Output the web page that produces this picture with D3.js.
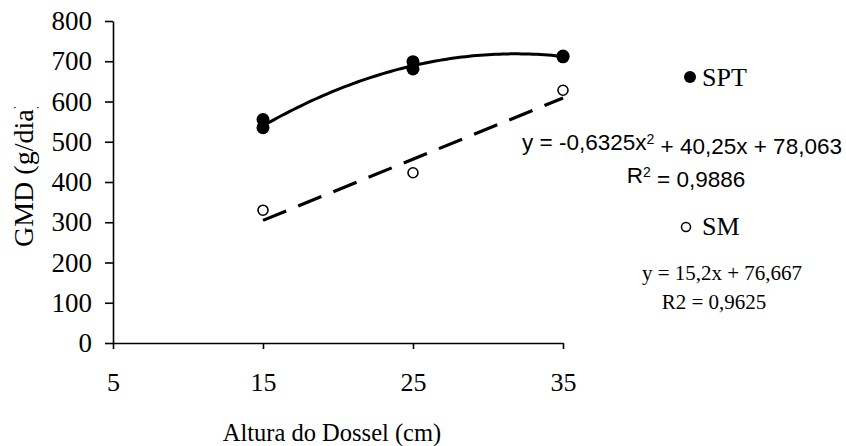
<!DOCTYPE html>
<html>
<head>
<meta charset="utf-8">
<script src="https://cdn.jsdelivr.net/npm/d3@7"></script>
<style>
  html, body { margin: 0; padding: 0; background: #fff; }
  svg { display: block; }
</style>
</head>
<body>
<svg id="chart" width="846" height="446"></svg>
<script>
// Canopy height (cm) and daily gain (g/dia) per grazing system
const sptHeight = [15, 15, 25, 25, 35, 35];
const sptGain   = [555, 535, 699, 681, 713, 711];
const smHeight  = [15, 25, 35];
const smGain    = [330, 423, 628];

// Trendline coefficients: c0 + c1*x + c2*x^2
const sptCoef = [78.063, 40.25, -0.6325];
const smCoef  = [76.667, 15.2];
const trendRange = [15, 35];

const xTicks = [5, 15, 25, 35];
const yTicks = [0, 100, 200, 300, 400, 500, 600, 700, 800];

const serif = "'Liberation Serif', 'Times New Roman', serif";
const sans  = "'Liberation Sans', Arial, sans-serif";

const svg = d3.select("#chart");

const x = d3.scaleLinear().domain([5, 35]).range([113, 563]);
const y = d3.scaleLinear().domain([0, 800]).range([343, 21]);

// Axes
const yAxis = d3.axisLeft(y).tickValues(yTicks).tickSize(8).tickSizeOuter(0).tickPadding(13);
const xAxis = d3.axisBottom(x).tickValues(xTicks).tickSize(6).tickSizeOuter(0).tickPadding(24);

const gy = svg.append("g").attr("transform", `translate(${x(5)},0)`).call(yAxis);
gy.selectAll("text").style("font-family", serif).style("font-size", "27px").attr("fill", "#000");

const gx = svg.append("g").attr("transform", `translate(0,${y(0)})`).call(xAxis);
gx.selectAll("text").style("font-family", serif).style("font-size", "26px").attr("fill", "#000");

[gx, gy].forEach(g => {
  g.select(".domain").attr("stroke", "#000").attr("stroke-width", 1.6);
  g.selectAll(".tick line").attr("stroke", "#000").attr("stroke-width", 1.6);
});

// Axis titles
svg.append("text")
  .attr("x", 332).attr("y", 441)
  .attr("text-anchor", "middle")
  .style("font-family", serif).style("font-size", "24.5px")
  .text("Altura do Dossel (cm)");

svg.append("clipPath").attr("id", "ytitle-clip")
  .append("rect").attr("x", 0).attr("y", 107).attr("width", 60).attr("height", 200);

svg.append("g").attr("clip-path", "url(#ytitle-clip)")
  .append("text")
  .attr("transform", "translate(33,247) rotate(-90)")
  .attr("text-anchor", "start")
  .style("font-family", serif).style("font-size", "28px")
  .text("GMD (g/dia)");

// Trendlines
const sptFit = v => sptCoef[0] + sptCoef[1] * v + sptCoef[2] * v * v;
const smFit  = v => smCoef[0] + smCoef[1] * v;

const samples = d3.range(trendRange[0], trendRange[1] + 0.001, 0.25);

svg.append("path")
  .datum(samples)
  .attr("fill", "none")
  .attr("stroke", "#000")
  .attr("stroke-width", 3)
  .attr("d", d3.line().x(d => x(d)).y(d => y(sptFit(d))));

svg.append("path")
  .datum(trendRange)
  .attr("fill", "none")
  .attr("stroke", "#000")
  .attr("stroke-width", 3.2)
  .attr("stroke-dasharray", "25 13")
  .attr("d", d3.line().x(d => x(d)).y(d => y(smFit(d))));

// Observed points
svg.append("g").selectAll("circle")
  .data(sptHeight.map((h, i) => [h, sptGain[i]]))
  .join("circle")
  .attr("cx", d => x(d[0])).attr("cy", d => y(d[1]))
  .attr("r", 6.5).attr("fill", "#000");

svg.append("g").selectAll("circle")
  .data(smHeight.map((h, i) => [h, smGain[i]]))
  .join("circle")
  .attr("cx", d => x(d[0])).attr("cy", d => y(d[1]))
  .attr("r", 5).attr("fill", "#fff").attr("stroke", "#000").attr("stroke-width", 1.6);

// Legend and equations
svg.append("circle").attr("cx", 690).attr("cy", 77).attr("r", 6).attr("fill", "#000");
svg.append("text").attr("x", 702).attr("y", 86)
  .style("font-family", serif).style("font-size", "26px").text("SPT");

const eq1 = svg.append("text").attr("x", 682).attr("y", 150).attr("text-anchor", "middle")
  .style("font-family", sans).style("font-size", "22.5px");
eq1.append("tspan").text("y = -0,6325x");
eq1.append("tspan").attr("dy", "-0.45em").style("font-size", "14px").text("2");
eq1.append("tspan").attr("dy", "0.45em").text(" + 40,25x + 78,063");

const r1 = svg.append("text").attr("x", 686).attr("y", 183).attr("text-anchor", "middle")
  .style("font-family", sans).style("font-size", "22.5px");
r1.append("tspan").text("R");
r1.append("tspan").attr("dy", "-0.45em").style("font-size", "14px").text("2");
r1.append("tspan").attr("dy", "0.45em").text(" = 0,9886");

svg.append("circle").attr("cx", 686).attr("cy", 227).attr("r", 4.5)
  .attr("fill", "#fff").attr("stroke", "#000").attr("stroke-width", 1.5);
svg.append("text").attr("x", 702).attr("y", 235)
  .style("font-family", serif).style("font-size", "26px").text("SM");

svg.append("text").attr("x", 722).attr("y", 280).attr("text-anchor", "middle")
  .style("font-family", serif).style("font-size", "21px").text("y = 15,2x + 76,667");
svg.append("text").attr("x", 714).attr("y", 309).attr("text-anchor", "middle")
  .style("font-family", serif).style("font-size", "21px").text("R2 = 0,9625");
</script>
</body>
</html>
